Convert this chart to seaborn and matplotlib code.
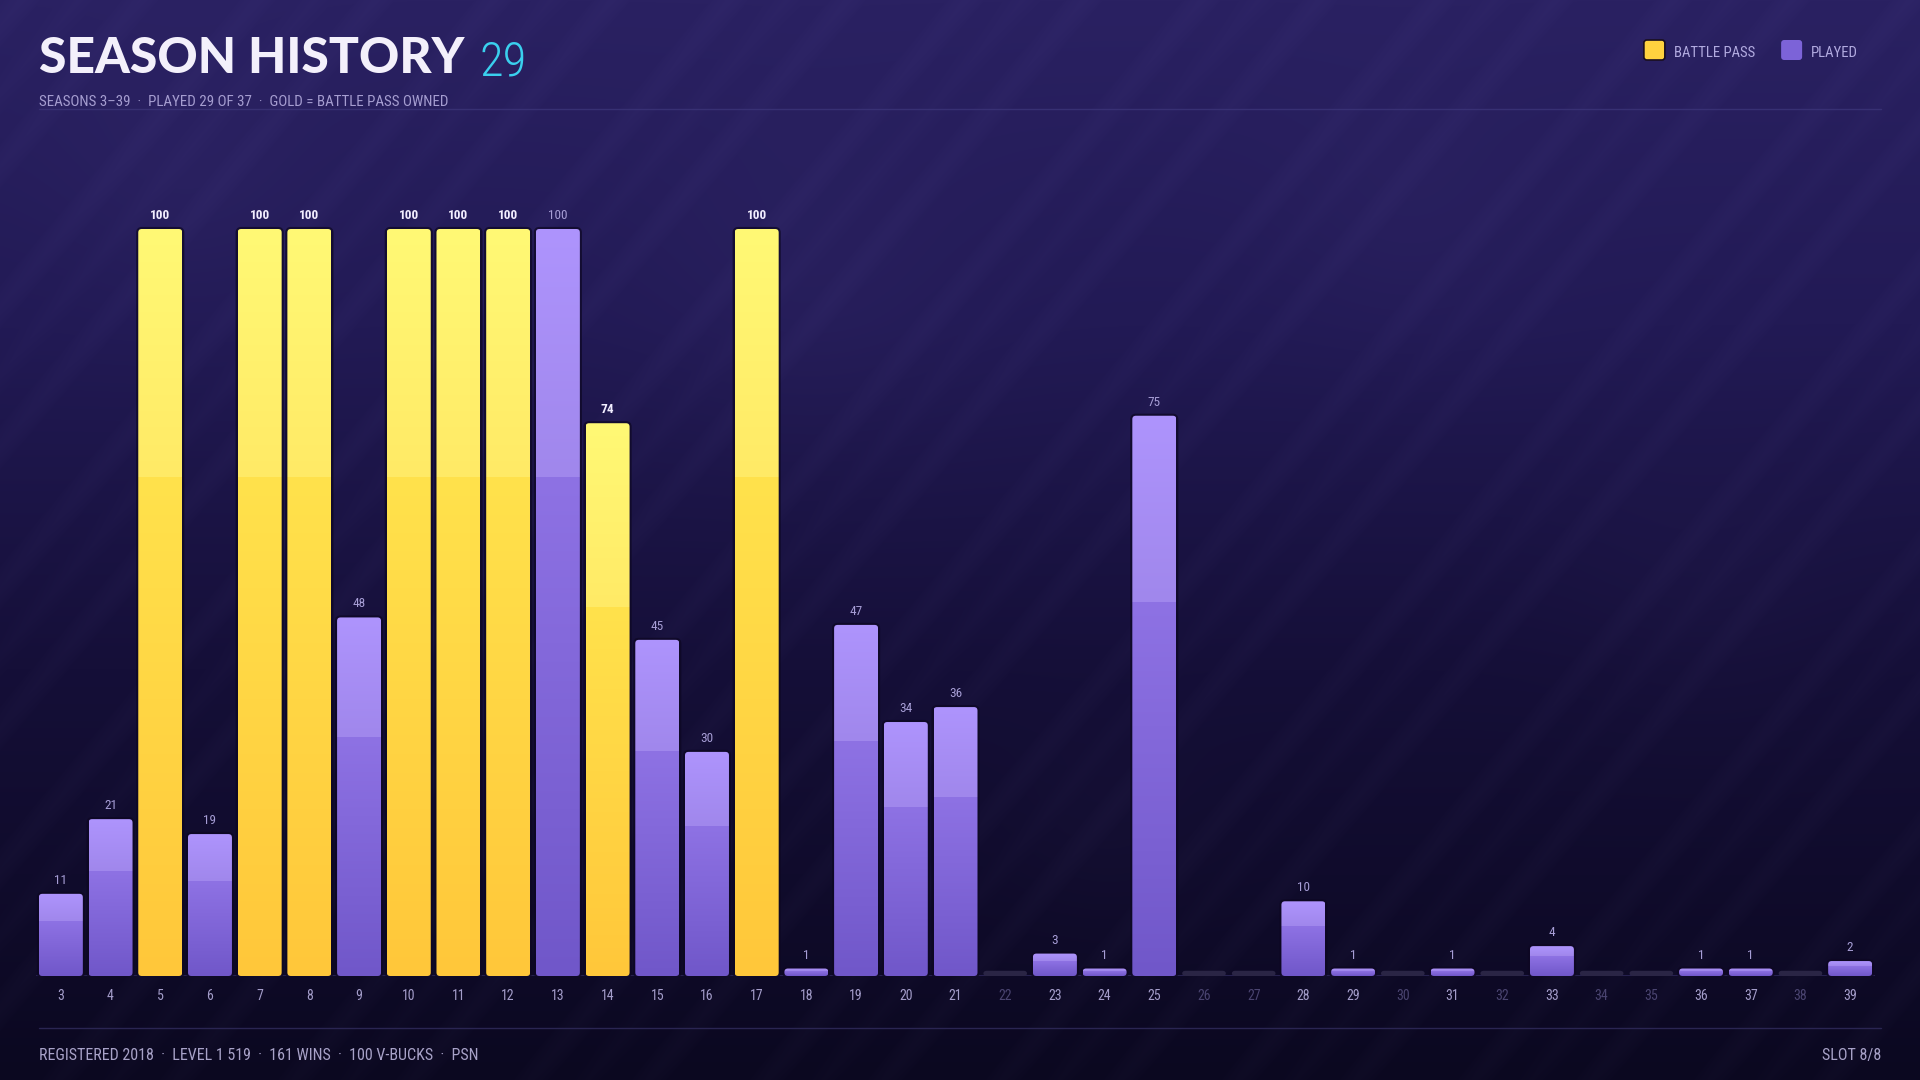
import numpy as np
import pandas as pd
import matplotlib
matplotlib.use("Agg")
import matplotlib.pyplot as plt
import seaborn as sns
from matplotlib.patches import FancyBboxPatch
from matplotlib.colors import to_rgb
from matplotlib import font_manager as fm

# ---------------- data ----------------
seasons = list(range(3, 40))
season_labels = [str(s) for s in seasons]
progress = [11, 21, 100, 19, 100, 100, 48, 100, 100, 100,
            100, 74, 45, 30, 100, 1, 47, 34, 36, 0,
            3, 1, 75, 0, 0, 10, 1, 0, 1, 0,
            4, 0, 0, 1, 1, 0, 2]
battle_pass_seasons = [5, 7, 8, 10, 11, 12, 14, 17]
kinds = ["BATTLE PASS" if s in battle_pass_seasons else "PLAYED" for s in seasons]

title_text = "SEASON HISTORY"
count_text = "29"
subtitle_text = "SEASONS 3\u201339  \u00b7  PLAYED 29 OF 37  \u00b7  GOLD = BATTLE PASS OWNED"
footer_text = "REGISTERED 2018  \u00b7  LEVEL 1 519  \u00b7  161 WINS  \u00b7  100 V-BUCKS  \u00b7  PSN"
slot_text = "SLOT 8/8"
legend_labels = ["BATTLE PASS", "PLAYED"]

# ---------------- fonts ----------------
sns.set_theme(style="white")
ttf = fm.fontManager.ttflist
names = {f.name for f in ttf}


def pick_narrow():
    for fam in ["Roboto Condensed", "Liberation Sans Narrow", "Open Sans Condensed",
                "Noto Sans Condensed", "Noto Sans Display Condensed"]:
        if fam in names:
            return dict(family=fam, stretch="normal")
    for fam in ["DejaVu Sans", "Noto Sans", "Open Sans", "Roboto"]:
        if any(f.name == fam and str(f.stretch) in ("condensed", "semi-condensed", "extra-condensed") for f in ttf):
            return dict(family=fam, stretch="condensed")
    return dict(family="DejaVu Sans", stretch="normal")


def pick_heavy():
    for fam in ["Lato Black", "Roboto Black", "Inter Black", "Noto Sans Black", "Open Sans ExtraBold"]:
        if fam in names:
            return fam
    return "Lato"


NARROW = pick_narrow()
HEAVY = pick_heavy()
condensed_ok = NARROW["family"] != "DejaVu Sans" or NARROW["stretch"] == "condensed"
WSCALE = 1.0 if condensed_ok else 0.82


def nfp(size, weight="normal"):
    return fm.FontProperties(family=[NARROW["family"], "DejaVu Sans"], stretch=NARROW["stretch"],
                             size=size * WSCALE, weight=weight)


plt.rcParams["font.family"] = [NARROW["family"], "DejaVu Sans"]

# ---------------- style ----------------
GOLD = "#ffd23f"
PURPLE = "#7c63d8"
grad_stops = {
    "BATTLE PASS": ["#ffc73a", "#ffe24c", "#ffea66", "#fff975"],
    "PLAYED": ["#7057c9", "#8e72e4", "#a087ec", "#ae94fd"],
}

W, H = 1920, 1080
fig = plt.figure(figsize=(19.2, 10.8), dpi=100)

# ---------------- background ----------------
bg = fig.add_axes([0, 0, 1, 1], zorder=-10)
yy, xx = np.mgrid[0:H, 0:W].astype(float)
t = yy / (H - 1)
stops_t = [0.0, 0.3, 0.62, 1.0]
stops_c = [to_rgb(c) for c in ["#2a2162", "#221a55", "#150f38", "#0b0820"]]
img = np.zeros((H, W, 3))
for ch in range(3):
    img[..., ch] = np.interp(t, stops_t, [c[ch] for c in stops_c])
phase = ((xx + 0.84 * yy) % 118.0) / 118.0
stripe = np.clip(1 - np.abs(phase - 0.18) / 0.16, 0, 1) ** 0.6
phase2 = ((xx + 0.84 * yy + 40) % 236.0) / 236.0
stripe2 = np.clip(1 - np.abs(phase2 - 0.5) / 0.08, 0, 1)
img += (0.018 * stripe + 0.012 * stripe2)[..., None] * np.array([0.8, 0.75, 1.0])
for gx, gy, r, a in [(185, 180, 90, 0.018), (810, 290, 110, 0.02), (1410, 225, 90, 0.015),
                     (1108, 830, 70, 0.012), (1700, 600, 90, 0.012)]:
    g = np.exp(-((xx - gx) ** 2 + (yy - gy) ** 2) / (2 * r * r))
    img += (a * g)[..., None] * np.array([0.8, 0.7, 1.0])
img = np.clip(img, 0, 1)
bg.imshow(img, extent=[0, W, H, 0], aspect="auto", interpolation="bilinear")
bg.set_xlim(0, W)
bg.set_ylim(H, 0)
bg.axis("off")

# ---------------- main chart ----------------
ax_left, ax_right = 36, 1875
ax_top, ax_bot = 150, 976
ymax = 100 * (ax_bot - ax_top) / (976 - 229)
ax = fig.add_axes([ax_left / W, (H - ax_bot) / H, (ax_right - ax_left) / W, (ax_bot - ax_top) / H])
ax.set_facecolor("none")

df = pd.DataFrame({"season": season_labels, "progress": progress, "kind": kinds})
sns.barplot(data=df, x="season", y="progress", hue="kind", order=season_labels,
            hue_order=legend_labels, palette={"BATTLE PASS": GOLD, "PLAYED": PURPLE},
            dodge=False, width=0.885, legend=False, ax=ax, errorbar=None)

n = len(seasons)
xlim = (-0.5, n - 0.5)
x_per_px = (xlim[1] - xlim[0]) / (ax_right - ax_left)
y_per_px = ymax / (ax_bot - ax_top)
asp = y_per_px / x_per_px
rad = 3.5 * x_per_px


def gradient(kind, m=600):
    c0, c1, c2, c3 = [np.array(to_rgb(c)) for c in grad_stops[kind]]
    tt = np.linspace(0, 1, m)
    out = np.zeros((m, 1, 3))
    for i, v in enumerate(tt):
        if v < 2 / 3:
            out[i, 0] = c0 + (c1 - c0) * (v / (2 / 3))
        else:
            out[i, 0] = c2 + (c3 - c2) * ((v - 2 / 3) / (1 / 3))
    return out


for ci, cont in enumerate(ax.containers):
    kind = legend_labels[ci]
    grad = gradient(kind)
    for bar, val in zip(cont.patches, cont.datavalues):
        x, w, h = bar.get_x(), bar.get_width(), bar.get_height()
        bar.set_facecolor("none")
        bar.set_edgecolor("none")
        if val <= 0:
            stub = FancyBboxPatch((x, 0), w, 0.7, boxstyle=f"round,pad=0,rounding_size={rad}",
                                  mutation_aspect=asp, transform=ax.transData,
                                  facecolor="#2a2545", edgecolor="none", zorder=2)
            ax.add_patch(stub)
            continue
        halo = FancyBboxPatch((x, 0), w, h, boxstyle=f"round,pad=0,rounding_size={rad}",
                              mutation_aspect=asp, transform=ax.transData,
                              facecolor="none", edgecolor="#0d0722", lw=3.0, alpha=0.7, zorder=2)
        ax.add_patch(halo)
        clip = FancyBboxPatch((x, 0), w, h, boxstyle=f"round,pad=0,rounding_size={rad}",
                              mutation_aspect=asp, transform=ax.transData,
                              facecolor="none", edgecolor="none", zorder=3)
        ax.add_patch(clip)
        im = ax.imshow(grad, extent=[x, x + w, 0, h], origin="lower", aspect="auto",
                       interpolation="nearest", zorder=3)
        im.set_clip_path(clip)

    labels = [f"{int(v)}" if v > 0 else "" for v in cont.datavalues]
    ax.bar_label(cont, labels=labels, padding=5,
                 color="#f2eeff" if kind == "BATTLE PASS" else "#a79ed6",
                 fontproperties=nfp(9.5, "bold" if kind == "BATTLE PASS" else "normal"))

ax.axhline(0, color="#2c2658", lw=1.2, zorder=1)
ax.set_xlim(*xlim)
ax.set_ylim(0, ymax)
ax.set_xlabel("")
ax.set_ylabel("")
ax.set_yticks([])
ax.set_xticks(range(n))
ax.set_xticklabels(season_labels, fontproperties=nfp(10))
ax.tick_params(axis="x", length=0, pad=9)
for lbl, v in zip(ax.get_xticklabels(), progress):
    lbl.set_color("#a49dca" if v > 0 else "#4a4470")
for s in ax.spines.values():
    s.set_visible(False)

# ---------------- overlay: titles, legend, footer ----------------
ov = fig.add_axes([0, 0, 1, 1], zorder=5)
ov.set_xlim(0, W)
ov.set_ylim(H, 0)
ov.axis("off")

ov.text(39, 73, title_text, fontsize=35.8, fontweight="black", family=[HEAVY, "DejaVu Sans"],
        color="#f3f0fb", va="baseline", ha="left")
ov.text(480, 75, count_text, fontproperties=nfp(35, "light"), color="#3ad0ee",
        va="baseline", ha="left")
ov.text(39, 106, subtitle_text, fontproperties=nfp(10.8), color="#a59dd0",
        va="baseline", ha="left")
ov.plot([39, 1881], [108.5, 108.5], color="#3c3579", lw=1.0, alpha=0.8)

# legend, right aligned and measured so the entries never overlap
fig.canvas.draw()
renderer = fig.canvas.get_renderer()
x_cursor = 1858
for lab, col in reversed(list(zip(legend_labels, [GOLD, PURPLE]))):
    tt = ov.text(x_cursor, 57, lab, fontproperties=nfp(10.6), color="#b1aadf",
                 va="baseline", ha="right")
    bb = tt.get_window_extent(renderer)
    left = x_cursor - bb.width
    sq = FancyBboxPatch((left - 30, 40), 21, 20, boxstyle="round,pad=0,rounding_size=3",
                        facecolor=col, edgecolor="#1a0f1f" if col == GOLD else "none", lw=1.2)
    ov.add_patch(sq)
    x_cursor = left - 30 - 26

# footer
ov.plot([39, 1881], [1028, 1028], color="#2a2552", lw=1.0)
ov.text(39, 1060, footer_text, fontproperties=nfp(11.5), color="#a8a2c8",
        va="baseline", ha="left")
ov.text(1881, 1060, slot_text, fontproperties=nfp(11.5), color="#a8a2c8",
        va="baseline", ha="right")

fig.savefig("out.png", dpi=100)
